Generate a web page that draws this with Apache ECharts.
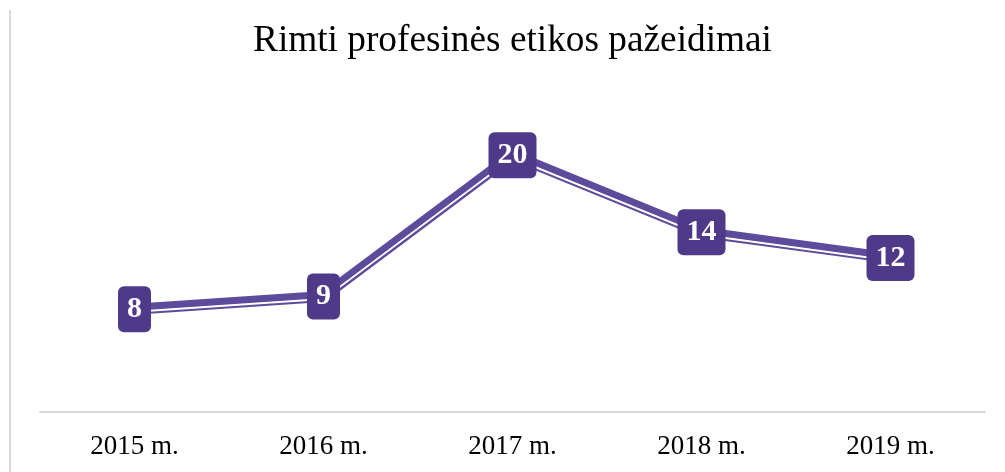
<!DOCTYPE html>
<html>
<head>
<meta charset="utf-8">
<style>
html,body{margin:0;padding:0;background:#fff;}
#chart{width:1005px;height:472px;}
</style>
<script src="https://cdn.jsdelivr.net/npm/echarts@6/dist/echarts.min.js"></script>
</head>
<body>
<div id="chart"></div>
<script>
const titleText = 'Rimti profesinės etikos pažeidimai';
const categories = ['2015 m.', '2016 m.', '2017 m.', '2018 m.', '2019 m.'];
const values = [8, 9, 20, 14, 12];

const chart = echarts.init(document.getElementById('chart'));
const serif = '"Liberation Serif", "Times New Roman", serif';
chart.setOption({
  animation: false,
  backgroundColor: '#ffffff',
  title: {
    text: titleText,
    left: 248,
    top: 18,
    textStyle: { fontFamily: serif, fontSize: 37.3, fontWeight: 'normal', color: '#000' }
  },
  graphic: [{
    type: 'line',
    shape: { x1: 10, y1: 10, x2: 10, y2: 472 },
    style: { stroke: '#D9D9D9', lineWidth: 2 }
  }],
  grid: { left: 40, right: 20, top: 91, bottom: 60 },
  xAxis: {
    type: 'category',
    data: categories,
    boundaryGap: true,
    axisLine: { show: true, lineStyle: { color: '#D9D9D9', width: 2 } },
    axisTick: { show: false },
    axisLabel: { fontFamily: serif, fontSize: 27, color: '#000', margin: 21 }
  },
  yAxis: {
    type: 'value', min: 0, max: 25,
    show: false,
    splitLine: { show: false }
  },
  series: [{
    type: 'line',
    data: values,
    symbol: 'none',
    lineStyle: { color: '#5E4B9B', width: 11 },
    z: 2
  }, {
    type: 'line',
    data: values,
    symbol: 'circle',
    symbolSize: 2,
    showSymbol: true,
    itemStyle: { color: 'rgba(0,0,0,0)' },
    lineStyle: { color: '#5E4B9B', width: 2, shadowColor: '#ffffff', shadowBlur: 0, shadowOffsetY: 2.5 },
    z: 3,
    label: {
      show: true,
      position: 'inside',
      fontFamily: serif,
      fontSize: 30,
      fontWeight: 'bold',
      color: '#ffffff',
      backgroundColor: '#4F3A8A',
      borderRadius: 6,
      padding: [7, 9, 6, 9],
      lineHeight: 33
    }
  }]
});
</script>
</body>
</html>
